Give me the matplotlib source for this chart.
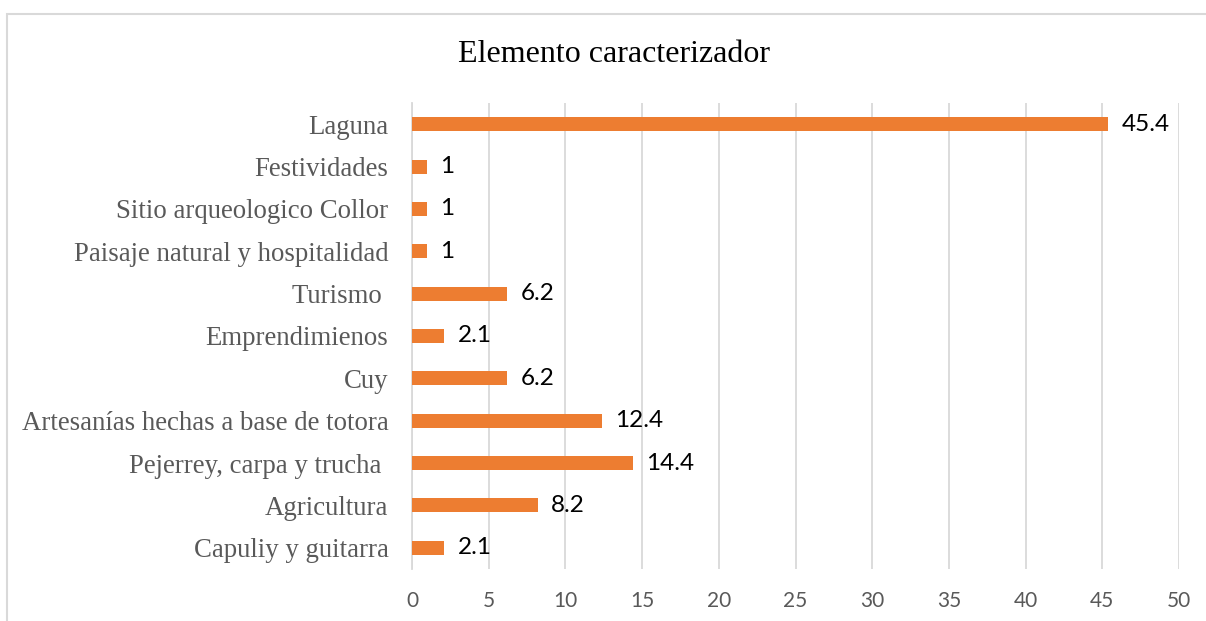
import matplotlib
matplotlib.use('Agg')
import matplotlib.pyplot as plt
from matplotlib.patches import Rectangle

# datos (de abajo hacia arriba)
categorias = [
    'Capuliy y guitarra',
    'Agricultura',
    'Pejerrey, carpa y trucha ',
    'Artesanías hechas a base de totora',
    'Cuy',
    'Emprendimienos',
    'Turismo ',
    'Paisaje natural y hospitalidad',
    'Sitio arqueologico Collor',
    'Festividades',
    'Laguna',
]
valores = [2.1, 8.2, 14.4, 12.4, 6.2, 2.1, 6.2, 1, 1, 1, 45.4]
etiquetas = ['2.1', '8.2', '14.4', '12.4', '6.2', '2.1', '6.2', '1', '1', '1', '45.4']
ticks_x = [0, 5, 10, 15, 20, 25, 30, 35, 40, 45, 50]

W, H = 1206, 621
fig = plt.figure(figsize=(W / 100, H / 100), dpi=100)
ax = fig.add_axes([412 / W, 1 - 569 / H, (1179 - 412) / W, (569 - 103) / H])

pos = list(range(len(categorias)))
ax.barh(pos, valores, height=0.33, color='#ED7D31', zorder=3)

for p, v, t in zip(pos, valores, etiquetas):
    ax.annotate(t, xy=(v, p), xytext=(9.5, 0), textcoords='offset points',
                ha='left', va='center', fontsize=17.5, family='Lato', color='black')

ax.set_xlim(0, 50)
ax.set_ylim(-0.5, len(categorias) - 0.5)
ax.set_xticks(ticks_x)
ax.set_xticklabels([str(t) for t in ticks_x], family='Lato', fontsize=15, color='#595959')
ax.set_yticks(pos)
ax.set_yticklabels(categorias, family='Liberation Serif', fontsize=19.3, color='#595959')
ax.tick_params(axis='y', length=0, pad=17)
ax.tick_params(axis='x', length=0, pad=16)

ax.grid(axis='x', color='#D9D9D9', lw=1.3, zorder=0)
for s in ['top', 'right', 'bottom']:
    ax.spines[s].set_visible(False)
ax.spines['left'].set_color('#D9D9D9')
ax.spines['left'].set_linewidth(1.3)

fig.text(614 / W, 1 - 55 / H, 'Elemento caracterizador', ha='center', va='center',
         family='Liberation Serif', fontsize=23, color='black')

# marco del gráfico
fig.patches.append(Rectangle((7 / W, -0.1), 1.2, 1.1 - 13.5 / H, transform=fig.transFigure,
                             fill=False, edgecolor='#D9D9D9', lw=1.5))

fig.savefig('out.png', dpi=100)
